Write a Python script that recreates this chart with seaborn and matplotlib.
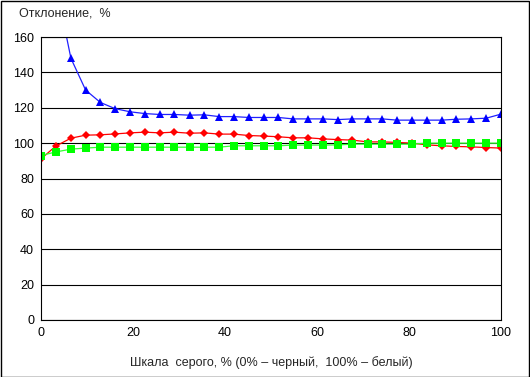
import matplotlib
matplotlib.use("Agg")
import matplotlib.pyplot as plt
import seaborn as sns
from matplotlib.patches import Rectangle

# Grey scale positions, %
gray_scale = [0, 3.2, 6.5, 9.7, 12.9, 16.1, 19.4, 22.6, 25.8, 29.0, 32.3, 35.5,
              38.7, 41.9, 45.2, 48.4, 51.6, 54.8, 58.1, 61.3, 64.5, 67.7, 71.0,
              74.2, 77.4, 80.6, 83.9, 87.1, 90.3, 93.5, 96.8, 100]

# Deviation, %
blue_vals = [300, 190, 148, 130, 123, 119.5, 117.7, 116.7, 116.2, 116.2, 115.8,
             116, 115, 115, 114.5, 114.5, 114.5, 113.7, 113.7, 113.7, 113.3,
             113.7, 113.7, 113.7, 113, 113, 113, 113, 113.5, 113.7, 114.1, 116.4]
red_vals = [91.1, 98.3, 102.8, 104.5, 104.7, 105.2, 105.8, 106.2, 105.8, 106.2,
            105.6, 105.8, 105.1, 105.1, 104.3, 104, 103.6, 103, 103, 102.4, 102,
            101.7, 100.7, 100.7, 100.4, 100, 99, 98.5, 98.1, 97.9, 97.5, 97.2]
green_vals = [93, 95, 96.6, 97.2, 97.7, 97.7, 97.7, 97.7, 97.7, 97.7, 97.7, 97.7,
              97.7, 98.5, 98.5, 98.5, 98.5, 98.9, 98.9, 98.9, 99, 99.4, 99.4,
              99.4, 99.4, 99.4, 100, 100, 100, 100, 100, 100]

y_ticks = [0, 20, 40, 60, 80, 100, 120, 140, 160]
x_ticks = [0, 20, 40, 60, 80, 100]

sns.set_style("white")
plt.rcParams['font.family'] = ['Liberation Sans', 'DejaVu Sans']
plt.rcParams['font.size'] = 9

fig = plt.figure(figsize=(5.3, 3.77), dpi=100)
ax = fig.add_axes([41 / 530, 1 - 320 / 377, 460 / 530, 283 / 377])

sns.lineplot(x=gray_scale, y=red_vals, ax=ax, color="#ff0000", lw=0.9,
             marker="D", markersize=4.5, markeredgewidth=0, mfc="#ff0000")
sns.lineplot(x=gray_scale, y=green_vals, ax=ax, color="#33ff33", lw=0.9,
             marker="s", markersize=5.5, markeredgewidth=0, mfc="#00ff00")
sns.lineplot(x=gray_scale, y=blue_vals, ax=ax, color="#2020ff", lw=0.9,
             marker="^", markersize=6, markeredgewidth=0, mfc="#0000ff")

ax.set_xlim(0, 100)
ax.set_ylim(0, 160)
ax.set_xticks(x_ticks)
ax.set_yticks(y_ticks)
ax.grid(axis="y", color="black", lw=0.8)
ax.grid(axis="x", visible=False)
for side in ["left", "bottom", "right", "top"]:
    ax.spines[side].set_visible(True)
    ax.spines[side].set_color("black")
    ax.spines[side].set_linewidth(0.8)
ax.tick_params(axis="both", direction="out", length=3, width=0.8,
               colors="black", labelsize=9, pad=2)
ax.set_xlabel("Шкала  серого, % (0% – черный,  100% – белый)", fontsize=9, labelpad=12)
ax.set_ylabel("")
fig.text(19 / 530, 1 - 13 / 377, "Отклонение,  %", fontsize=9, va="center", ha="left")

fig.add_artist(Rectangle((0.001, 0.001), 0.997, 0.996, transform=fig.transFigure,
                         fill=False, edgecolor="black", lw=1))

fig.savefig("out.png", dpi=100)
